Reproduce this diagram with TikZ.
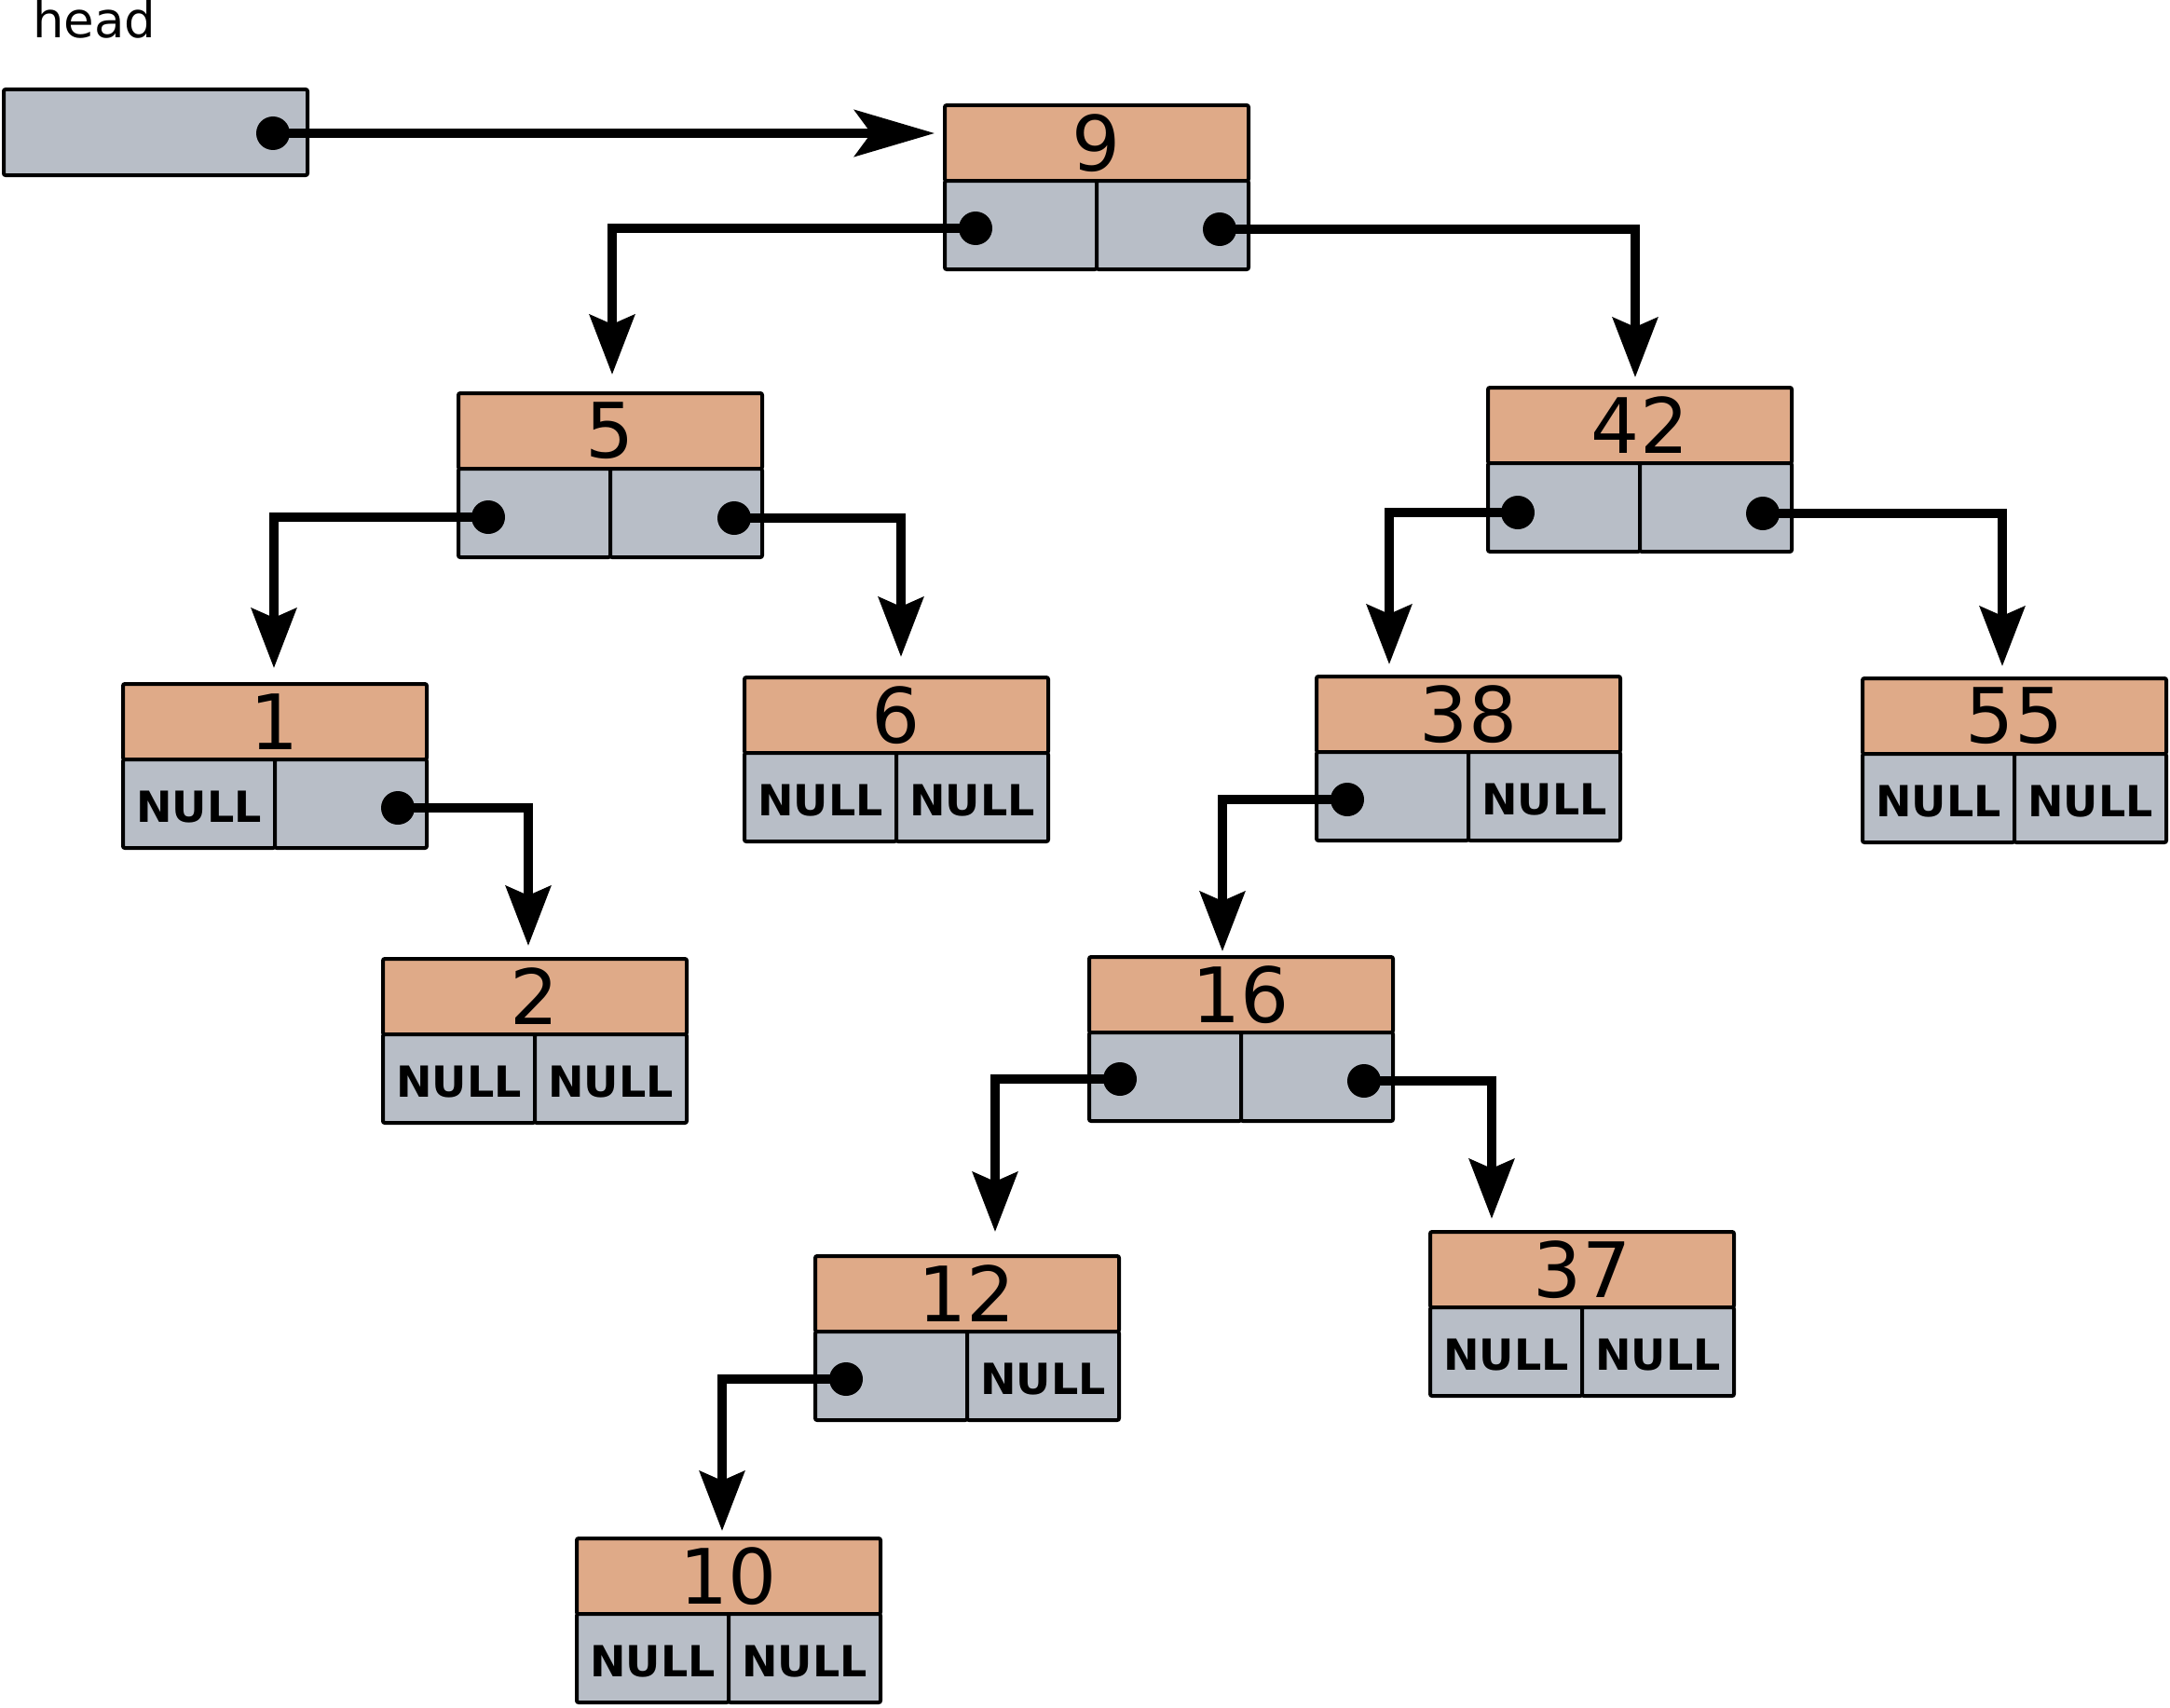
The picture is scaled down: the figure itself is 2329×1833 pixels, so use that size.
\documentclass[tikz,border=0pt]{standalone}
\usepackage{fontspec}
\setmainfont{DejaVu Sans}
\usetikzlibrary{arrows.meta,calc}
\definecolor{valfill}{HTML}{DFAA88}
\definecolor{ptrfill}{HTML}{B8BEC7}
\tikzset{
  valbox/.style={draw=black, line width=4pt, fill=valfill, rounded corners=2pt,
    minimum width=326pt, minimum height=81pt, inner sep=0pt, outer sep=0pt, anchor=north west,
    font=\fontsize{82}{82}\selectfont},
  ptrbox/.style={draw=black, line width=4pt, fill=ptrfill, rounded corners=2pt,
    minimum width=163pt, minimum height=95pt, inner sep=0pt, outer sep=0pt,
    text height=39.5pt, text depth=0pt,
    font=\fontsize{46}{46}\selectfont\bfseries},
  headbox/.style={draw=black, line width=4pt, fill=ptrfill, rounded corners=2pt,
    minimum width=326pt, minimum height=92pt, inner sep=0pt, outer sep=0pt, anchor=north west},
  ptrdot/.style={circle, fill=black, minimum size=36pt, inner sep=0pt},
  link/.style={line width=9.3pt, -{Stealth[length=64pt,width=48pt,inset=10pt]}},
  headlink/.style={line width=9.3pt, -{Stealth[length=86pt,width=50pt,inset=18pt]}},
}
\newcommand\bstnode[6]{%
  \node[valbox] (#1) at (#2,#3) {#4};
  \node[ptrbox, anchor=north west] (#1L) at (#1.south west) {#5};
  \node[ptrbox, anchor=north east] (#1R) at (#1.south east) {#6};
}
\begin{document}
\begin{tikzpicture}[x=1pt,y=-1pt]
\useasboundingbox (0,0) rectangle (2329,1833);
% head
\node[anchor=base west, inner sep=0pt, font=\fontsize{53}{53}\selectfont] (headlabel) at (35,41) {head};
\node[headbox] (head) at (4,96) {};
% tree nodes
\bstnode{n9}{1014}{113}{9}{}{}
\bstnode{n5}{492}{422}{5}{}{}
\bstnode{n42}{1597}{416}{42}{}{}
\bstnode{n1}{132}{734}{1}{NULL}{}
\bstnode{n6}{799}{727}{6}{NULL}{NULL}
\bstnode{n38}{1413}{726}{38}{}{NULL}
\bstnode{n55}{1999}{728}{55}{NULL}{NULL}
\bstnode{n2}{411}{1029}{2}{NULL}{NULL}
\bstnode{n16}{1169}{1027}{16}{}{}
\bstnode{n12}{875}{1348}{12}{}{NULL}
\bstnode{n37}{1535}{1322}{37}{NULL}{NULL}
\bstnode{n10}{619}{1651}{10}{NULL}{NULL}
% pointer dots
\node[ptrdot] (dh)   at (293,143) {};
\node[ptrdot] (d9l)  at (1047,245) {};
\node[ptrdot] (d9r)  at (1309,246) {};
\node[ptrdot] (d5l)  at (524,555) {};
\node[ptrdot] (d5r)  at (788,556) {};
\node[ptrdot] (d42l) at (1629,550) {};
\node[ptrdot] (d42r) at (1892,551) {};
\node[ptrdot] (d1r)  at (427,867) {};
\node[ptrdot] (d38l) at (1446,858) {};
\node[ptrdot] (d16l) at (1202,1158) {};
\node[ptrdot] (d16r) at (1464,1160) {};
\node[ptrdot] (d12l) at (908,1480) {};
% arrow targets
\coordinate (t9)  at (1003,143);
\coordinate (t5)  at (657,402);
\coordinate (t42) at (1755,405);
\coordinate (t1)  at (294,717);
\coordinate (t6)  at (967,705);
\coordinate (t38) at (1491,713);
\coordinate (t55) at (2149,715);
\coordinate (t2)  at (567,1015);
\coordinate (t16) at (1312,1021);
\coordinate (t12) at (1068,1322);
\coordinate (t37) at (1601,1308);
\coordinate (t10) at (775,1643);
% links
\draw[headlink] (dh.center) -- (t9);
\draw[link] (d9l.center) -| (t5);
\draw[link] (d9r.center) -| (t42);
\draw[link] (d5l.center) -| (t1);
\draw[link] (d5r.center) -| (t6);
\draw[link] (d42l.center) -| (t38);
\draw[link] (d42r.center) -| (t55);
\draw[link] (d1r.center) -| (t2);
\draw[link] (d38l.center) -| (t16);
\draw[link] (d16l.center) -| (t12);
\draw[link] (d16r.center) -| (t37);
\draw[link] (d12l.center) -| (t10);
\end{tikzpicture}
\end{document}
